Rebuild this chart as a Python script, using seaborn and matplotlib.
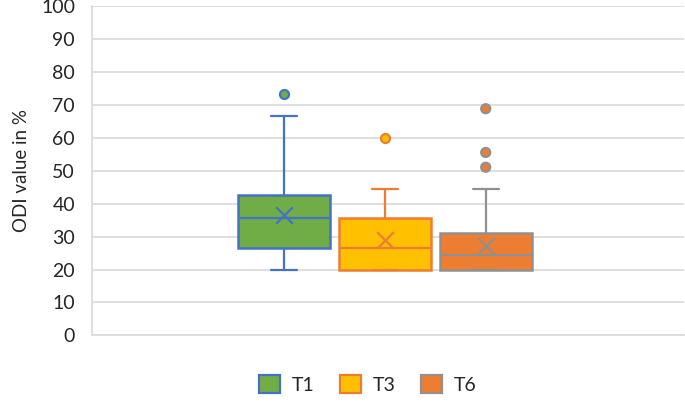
import pandas as pd
import numpy as np
import matplotlib.pyplot as plt
import seaborn as sns

# five-number summaries (whisker low, Q1, median, Q3, whisker high)
groups = ["T1", "T3", "T6"]
t1_box = [20.0, 26.6, 35.6, 42.8, 66.6]
t3_box = [20.0, 20.0, 26.6, 35.6, 44.5]
t6_box = [20.0, 20.0, 24.4, 31.0, 44.5]
means = [36.7, 29.1, 27.1]
t1_out = [73.3]
t3_out = [60.0]
t6_out = [68.9, 55.6, 51.1]

fills = ["#70AD47", "#FFC000", "#ED7D31"]
edges = ["#4472C4", "#ED7D31", "#909090"]

box_df = pd.DataFrame({
    "cat": "",
    "group": ["T1"] * 5 + ["T3"] * 5 + ["T6"] * 5,
    "value": t1_box + t3_box + t6_box,
})
out_df = pd.DataFrame({
    "cat": "",
    "group": ["T1"] * len(t1_out) + ["T3"] * len(t3_out) + ["T6"] * len(t6_out),
    "value": t1_out + t3_out + t6_out,
})
mean_df = pd.DataFrame({"cat": "", "group": groups, "value": means})

sns.set_theme(style="white")
plt.rcParams["font.family"] = ["Lato", "DejaVu Sans"]

fig, ax = plt.subplots(figsize=(6.85, 4.03), dpi=100)
fig.subplots_adjust(left=0.134, right=0.998, top=0.984, bottom=0.168)

sns.boxplot(data=box_df, x="cat", y="value", hue="group", hue_order=groups,
            palette=fills, saturation=1, width=0.8, gap=0.09, whis=10,
            showfliers=False, linewidth=1.8, legend=False, ax=ax)

# recolor box lines per group
for i, patch in enumerate(ax.patches[:3]):
    patch.set_edgecolor(edges[i])
    patch.set_facecolor(fills[i])
    patch.set_linewidth(1.8)
lines = ax.lines
per = len(lines) // 3
for i in range(3):
    lo = box_df[box_df.group == groups[i]].value.iloc[0]
    hi = box_df[box_df.group == groups[i]].value.iloc[-1]
    for ln in lines[i * per:(i + 1) * per]:
        ln.set_color(edges[i])
        ln.set_linewidth(1.6)
        # caps a bit narrower
        xd = ln.get_xdata()
        if len(xd) == 2 and xd[0] != xd[1]:
            yv = ln.get_ydata()[0]
            if abs(yv - lo) < 1e-6 or abs(yv - hi) < 1e-6:
                c = (xd[0] + xd[1]) / 2
                h = (xd[1] - xd[0]) / 2 * 0.28 / 0.5
                ln.set_xdata([c - h, c + h])

n_coll = len(ax.collections)
sns.stripplot(data=out_df, x="cat", y="value", hue="group", hue_order=groups,
              palette=fills, dodge=True, jitter=False, size=6.5, linewidth=1.6,
              legend=False, ax=ax)
for coll in ax.collections[n_coll:]:
    fc = coll.get_facecolor()
    for i, f in enumerate(fills):
        if len(fc) and np.allclose(fc[0][:3], plt.matplotlib.colors.to_rgb(f), atol=0.02):
            coll.set_edgecolor(edges[i])

sns.stripplot(data=mean_df, x="cat", y="value", hue="group", hue_order=groups,
              palette=edges, dodge=True, jitter=False, marker="x", size=12,
              linewidth=1.6, legend=False, ax=ax)

ax.set_xlim(-0.773, 0.789)
ax.set_ylim(0, 100)
ax.set_yticks(np.arange(0, 101, 10))
ax.yaxis.grid(True, color="#D9D9D9", linewidth=1.2)
ax.set_axisbelow(True)
ax.set_xticks([])
ax.set_xlabel("")
ax.set_ylabel("ODI value in %", fontsize=13.5, color="#262626", labelpad=8)
ax.tick_params(axis="y", labelsize=14, colors="#262626", length=0, pad=12)
for s in ["top", "right"]:
    ax.spines[s].set_visible(False)
ax.spines["left"].set_color("#D9D9D9")
ax.spines["bottom"].set_color("#D9D9D9")
ax.spines["left"].set_linewidth(1.2)
ax.spines["bottom"].set_linewidth(1.2)

handles = [plt.Rectangle((0, 0), 1, 1, facecolor=f, edgecolor=e, linewidth=1.6)
           for f, e in zip(fills, edges)]
fig.legend(handles, groups, loc="center", bbox_to_anchor=(0.537, 0.047), ncol=3,
           frameon=False, fontsize=14, handlelength=1.1, handleheight=1.1,
           handletextpad=0.6, columnspacing=1.3, labelcolor="#262626")

fig.savefig("out.png", dpi=100)
